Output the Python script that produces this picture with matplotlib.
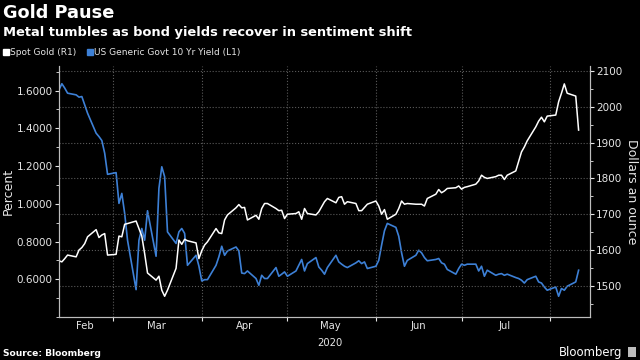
import pandas as pd
import numpy as np
import matplotlib.pyplot as plt
import matplotlib.dates as mdates
from matplotlib.ticker import MultipleLocator, FixedLocator, FormatStrFormatter
from matplotlib.lines import Line2D
from matplotlib.patches import Rectangle

plt.rcParams['font.family'] = ['DejaVu Sans']

# daily closes (business days 2020-02-11 .. 2020-08-11)
dates = pd.bdate_range('2020-02-11', '2020-08-11')

spot_gold = [
    1570, 1567, 1576, 1586, 1581, 1600, 1607, 1618, 1637, 1657,
    1635, 1642, 1646, 1586, 1588, 1639, 1637, 1672, 1674, 1681,
    1660, 1639, 1590, 1536, 1516, 1527, 1488, 1471, 1488, 1549,
    1628, 1616, 1630, 1626, 1620, 1576, 1598,
    1614, 1623, 1660, 1648, 1646, 1684, 1698, 1718, 1727, 1718,
    1719, 1684, 1697, 1686, 1716, 1730, 1730, 1716, 1710, 1711,
    1688, 1700, 1702, 1707, 1686, 1716, 1702, 1698, 1707, 1721,
    1735, 1744, 1732, 1747,
    1749, 1728, 1735, 1730, 1710, 1710, 1719, 1728, 1737, 1723,
    1700, 1713, 1686, 1700, 1716, 1737, 1728, 1730, 1728, 1728,
    1728, 1723, 1744, 1756, 1769, 1760, 1765, 1772, 1774, 1779,
    1770, 1775,
    1777, 1784, 1793, 1809, 1803, 1800, 1805, 1809, 1809, 1797,
    1809, 1821, 1847, 1874, 1888, 1905, 1944, 1960, 1971, 1958,
    1974, 1977, 2014, 2038, 2064, 2038, 2030, 1935,
]

us_10y = [
    1.604, 1.636, 1.613, 1.586, 1.577, 1.565, 1.568, 1.524, 1.480, 1.374,
    1.356, 1.335, 1.268, 1.156, 1.165, 1.002, 1.055, 0.949, 0.807, 0.545,
    0.807, 0.869, 0.807, 0.963, 0.722, 1.082, 1.196, 1.143, 0.851, 0.790,
    0.851, 0.869, 0.843, 0.674, 0.727, 0.670, 0.591,
    0.598, 0.598, 0.674, 0.719, 0.775, 0.727, 0.750, 0.771, 0.750, 0.633,
    0.630, 0.644, 0.604, 0.568, 0.621, 0.604, 0.604, 0.662, 0.616, 0.627,
    0.639, 0.616, 0.644, 0.674, 0.705, 0.644, 0.683, 0.715, 0.665, 0.648,
    0.627, 0.662, 0.727, 0.692,
    0.680, 0.669, 0.662, 0.687, 0.698, 0.683, 0.692, 0.657, 0.669, 0.700,
    0.781, 0.857, 0.896, 0.875, 0.828, 0.740, 0.669, 0.700, 0.727, 0.754,
    0.740, 0.715, 0.698, 0.705, 0.710, 0.687, 0.680, 0.652, 0.627, 0.657,
    0.680, 0.674,
    0.680, 0.680, 0.644, 0.669, 0.616, 0.648, 0.621, 0.627, 0.630, 0.621,
    0.627, 0.609, 0.604, 0.595, 0.580, 0.598, 0.616, 0.586, 0.580, 0.559,
    0.542, 0.559, 0.510, 0.551, 0.542, 0.563, 0.586, 0.648,
]

month_starts = pd.to_datetime(['2020-03-01', '2020-04-01', '2020-05-01',
                               '2020-06-01', '2020-07-01', '2020-08-01'])
label_dates = pd.to_datetime(['2020-02-20', '2020-03-16', '2020-04-16',
                              '2020-05-16', '2020-06-16', '2020-07-16'])
month_labels = ['Feb', 'Mar', 'Apr', 'May\n2020', 'Jun', 'Jul']

left_ticks = [0.6, 0.8, 1.0, 1.2, 1.4, 1.6]
right_ticks = [1500, 1600, 1700, 1800, 1900, 2000, 2100]

BG = 'black'
FG = '#e6e6e6'
GOLD_C = '#ffffff'
YIELD_C = '#3d80d6'
GRID_C = '#5a5a5a'

fig = plt.figure(figsize=(6.4, 3.6), dpi=100, facecolor=BG)
ax = fig.add_axes([0.0922, 0.1194, 0.8297, 0.6973])
ax.set_facecolor(BG)
ax2 = ax.twinx()
ax2.patch.set_visible(False)

ax.plot(dates, us_10y, color=YIELD_C, lw=1.2)
ax2.plot(dates, spot_gold, color=GOLD_C, lw=1.1)

ax.set_xlim(pd.Timestamp('2020-02-11'), pd.Timestamp('2020-08-15'))
ax.set_ylim(0.4, 1.73)
ax2.set_ylim(1413, 2114)

# x axis: ticks at month boundaries, labels mid-month
ax.xaxis.set_major_locator(FixedLocator(mdates.date2num(month_starts)))
ax.xaxis.set_major_formatter(plt.NullFormatter())
ax.xaxis.set_minor_locator(FixedLocator(mdates.date2num(label_dates)))
ax.xaxis.set_minor_formatter(plt.FixedFormatter(month_labels))
ax.tick_params(axis='x', which='major', length=3, color=FG, direction='out')
ax.tick_params(axis='x', which='minor', length=0, pad=3, labelsize=7.2, labelcolor=FG)
for t in ax.xaxis.get_minorticklabels():
    t.set_linespacing(1.8)

ax.yaxis.set_major_locator(FixedLocator(left_ticks))
ax.yaxis.set_minor_locator(MultipleLocator(0.1))
ax.yaxis.set_major_formatter(FormatStrFormatter('%.4f'))
ax.tick_params(axis='y', which='major', length=3, color=FG, labelsize=7.5, labelcolor=FG, pad=1.5)
ax.tick_params(axis='y', which='minor', length=2, color=FG)

ax2.yaxis.set_major_locator(FixedLocator(right_ticks))
ax2.yaxis.set_minor_locator(MultipleLocator(50))
ax2.tick_params(axis='y', which='major', length=3, color=FG, labelsize=7.5, labelcolor=FG, pad=1.5)
ax2.tick_params(axis='y', which='minor', length=2, color=FG)

ax.set_ylabel('Percent', color=FG, fontsize=9, labelpad=1)
ax2.set_ylabel('Dollars an ounce', color=FG, fontsize=9, rotation=-90, labelpad=11)

for a in (ax, ax2):
    a.spines['top'].set_visible(False)
    for s in ('left', 'right', 'bottom'):
        a.spines[s].set_color('#bdbdbd')
        a.spines[s].set_linewidth(0.8)

ax2.grid(True, axis='y', which='major', color=GRID_C, linestyle=':', linewidth=0.8)
ax.grid(True, axis='x', which='major', color=GRID_C, linestyle=':', linewidth=0.8)
ax.set_axisbelow(True)

# titles
fig.text(0.005, 0.95, 'Gold Pause', color='white', fontsize=12.8, fontweight='bold',
         va='baseline', ha='left')
fig.text(0.005, 0.9, 'Metal tumbles as bond yields recover in sentiment shift',
         color='white', fontsize=9.4, fontweight='bold', va='baseline', ha='left')

handles = [Line2D([], [], marker='s', linestyle='', color=GOLD_C, markersize=4.5),
           Line2D([], [], marker='s', linestyle='', color=YIELD_C, markersize=4.5)]
leg = fig.legend(handles, ['Spot Gold (R1)', 'US Generic Govt 10 Yr Yield (L1)'],
                 loc='center left', bbox_to_anchor=(0.0, 0.853), ncol=2, frameon=False,
                 fontsize=6.5, handletextpad=0.05, columnspacing=1.0, handlelength=0.9,
                 borderaxespad=0, borderpad=0.2)
for t in leg.get_texts():
    t.set_color(FG)

fig.text(0.005, 0.011, 'Source: Bloomberg', color='white', fontsize=6.6, fontweight='bold',
         va='baseline', ha='left')
fig.text(0.973, 0.011, 'Bloomberg', color='white', fontsize=8.4, va='baseline', ha='right')
fig.patches.append(Rectangle((0.981, 0.008), 0.013, 0.028, transform=fig.transFigure,
                             facecolor='#bdbdbd', edgecolor='none'))

fig.savefig('out.png', dpi=100, facecolor=BG)
